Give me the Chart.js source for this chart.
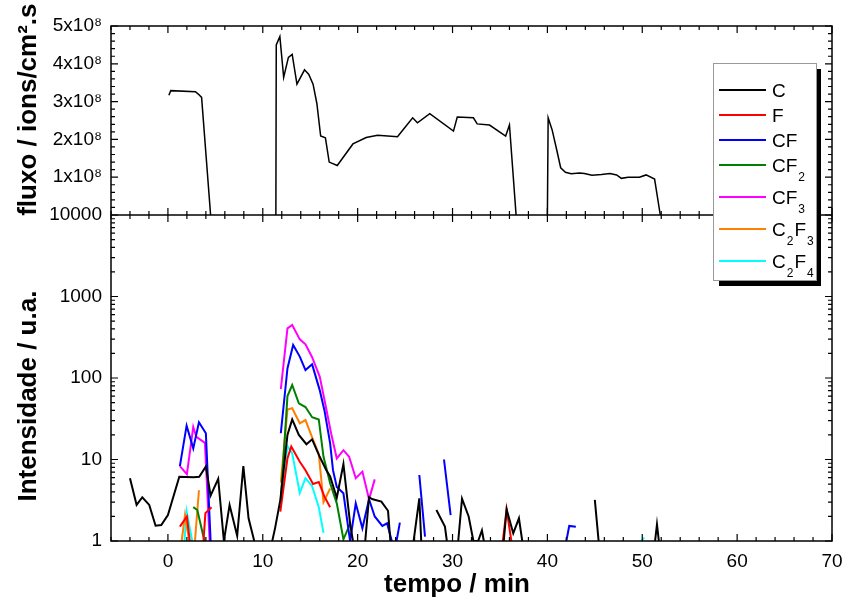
<!DOCTYPE html>
<html><head><meta charset="utf-8">
<script src="https://cdn.jsdelivr.net/npm/chart.js@4.4.1/dist/chart.umd.min.js"></script>
<style>html,body{margin:0;padding:0;background:#fff;}canvas{display:block;}</style>
</head><body>
<canvas id="c" width="843" height="600"></canvas>
<script>
// ---------- DATA ----------
const xTickValues = [0, 10, 20, 30, 40, 50, 60, 70];
const fluxTickValues = [1e8, 2e8, 3e8, 4e8, 5e8];
const intensityTickValues = [1, 10, 100, 1000, 10000];

// top panel: ion flux (ions/cm2.s), null = gap
const fluxTime  = [0.1, 0.3, 2.9, 3.2, 3.55, 4.5, 8, 11.38, 11.42, 11.8, 12.2, 12.7, 13.1, 13.6, 14.4, 14.85, 15.3, 15.7, 16.1, 16.6, 17.0, 17.85, 19.5, 20.9, 22.1, 24.2, 25.0, 25.8, 26.3, 27.6, 30.1, 30.5, 32.2, 32.6, 33.9, 35.6, 36.0, 36.7, 38, 40.0, 40.08, 40.5, 40.95, 41.4, 41.9, 42.5, 43.4, 43.9, 44.7, 45.7, 46.6, 47.3, 47.8, 48.5, 49.7, 50.4, 51.3, 51.9];
const fluxValue = [3.17e8, 3.29e8, 3.26e8, 3.2e8, 3.11e8, 0, null, 0, 4.5e8, 4.72e8, 3.64e8, 4.17e8, 4.25e8, 3.46e8, 3.84e8, 3.72e8, 3.46e8, 2.95e8, 2.09e8, 2.04e8, 1.40e8, 1.31e8, 1.88e8, 2.05e8, 2.11e8, 2.07e8, 2.32e8, 2.57e8, 2.44e8, 2.68e8, 2.22e8, 2.59e8, 2.57e8, 2.41e8, 2.38e8, 2.09e8, 2.38e8, 0, null, 0, 2.57e8, 2.25e8, 1.76e8, 1.25e8, 1.13e8, 1.09e8, 1.11e8, 1.10e8, 1.05e8, 1.07e8, 1.10e8, 1.06e8, 0.97e8, 1.0e8, 1.0e8, 1.06e8, 0.95e8, 0];

// bottom panel: intensities (a.u.), null = gap
const cTime  = [-4.0, -3.3, -2.7, -1.97, -1.3, -0.7, 0.0, 1.2, 2.7, 3.3, 4.0, 4.5, 5.3, 5.9, 6.5, 7.3, 7.95, 8.5, 9.1, 10, 11.0, 11.3, 11.85, 12.6, 13.1, 13.8, 14.6, 15.2, 16.0, 16.7, 17.1, 17.8, 18.5, 19.2, 19.5, 20, 20.8, 21.2, 21.6, 22.5, 23.2, 23.45, 25, 25.9, 26.5, 26.7, 27.5, 28.3, 29.2, 29.4, 30, 30.6, 31.0, 31.7, 32.2, 32.7, 33.1, 33.3, 34, 35.4, 35.7, 36.4, 37.0, 37.35, 40, 45.0, 45.4, 48, 51.35, 51.55, 51.75];
const cValue = [5.9, 2.77, 3.44, 2.77, 1.54, 1.57, 2.08, 6.15, 6.05, 6.15, 8.2, 3.6, 5.8, 1, 2.77, 1.16, 8.3, 1.9, 1, null, 1, 1.45, 3.2, 20, 31, 20, 15.4, 17.7, 10.8, 7.4, 6.2, 3.4, 8.8, 1.65, 1, null, 1, 3.44, 3.25, 3.04, 2.35, 1, null, 1, 3.34, 1, null, 2.4, 1.5, 1, null, 1, 3.3, 2.0, 1, 1, 1.35, 1, null, 1, 2.45, 1.24, 1.9, 1, null, 3.2, 1, null, 1, 1.6, 1];

const fTime  = [1.26, 2.0, 2.3, 3, 3.75, 3.95, 4.6, 8, 11.85, 12.6, 13.0, 13.9, 14.5, 15.3, 15.9, 16.5, 17.1, 25, 35.3, 35.7, 36.2];
const fValue = [1.5, 2.0, 1, null, 1, 2.2, 2.6, null, 2.3, 10.3, 14.4, 9.4, 7.4, 5.0, 5.3, 3.5, 2.6, null, 1, 2.45, 1];

const cfTime  = [1.26, 1.97, 2.67, 3.27, 4.0, 4.5, 8, 11.9, 12.6, 13.2, 13.9, 14.5, 15.2, 16.0, 16.5, 17.1, 17.4, 17.8, 18.5, 19.2, 19.8, 20.5, 21.2, 21.8, 22.6, 23.1, 23.6, 23.8, 24.1, 24.45, 25, 26.5, 27.1, 28, 29.1, 29.8, 35, 42.0, 42.3, 43.0];
const cfValue = [8.3, 26, 13.7, 28.6, 21, 1, null, 21, 131, 254, 183, 125, 147, 71, 40, 15.8, 7.4, 4.6, 3.85, 1, 2.9, 1.43, 3.25, 2.0, 1.53, 1.65, 1, null, 1, 1.68, null, 6.45, 1.13, null, 10, 2.08, null, 1, 1.53, 1.5];

const cf2Time  = [2.67, 3.1, 3.85, 8, 11.9, 12.6, 13.1, 13.8, 14.5, 15.2, 15.9, 16.4, 17.1, 17.8, 18.5, 19.2];
const cf2Value = [2.6, 2.4, 1, null, 3.2, 60, 82, 49, 44, 33, 31, 10.8, 5.1, 2.9, 1.05, 1.62];

const cf3Time  = [1.26, 2.0, 2.67, 3.0, 3.9, 4.4, 8, 11.9, 12.6, 13.1, 13.9, 14.5, 15.2, 16.0, 16.5, 17.2, 17.8, 18.5, 19.1, 19.8, 20.5, 21.2, 21.8];
const cf3Value = [8.3, 6.6, 25, 19, 16, 1, null, 73, 407, 447, 298, 259, 180, 104, 54, 21, 10.3, 13, 10.8, 5.9, 7.1, 3.25, 5.7];

const c2f3Time  = [1.45, 1.8, 2.25, 2.5, 2.85, 3.27, 8, 11.9, 12.6, 13.1, 13.9, 14.5, 15.2, 15.9, 16.4, 17.1];
const c2f3Value = [1, 2.08, 1, null, 1, 4.2, null, 5.2, 41, 42.5, 27.8, 30.5, 18.7, 11.7, 3.0, 4.4];

const c2f4Time  = [1.75, 1.97, 2.56, 8, 11.9, 12.6, 13.1, 13.9, 14.5, 15.2, 15.9, 16.4, 30, 49.9, 50.2];
const c2f4Value = [1, 2.3, 1, null, 3.3, 14.6, 11.9, 3.9, 5.9, 4.7, 2.6, 1.26, null, 1, 1.1];

const seriesNames  = ['C', 'F', 'CF', 'CF_2', 'CF_3', 'C_2F_3', 'C_2F_4'];
const seriesColors = ['#000000', '#ff0000', '#0000ff', '#008000', '#ff00ff', '#ff8000', '#00ffff'];
const seriesTimes  = [cTime, fTime, cfTime, cf2Time, cf3Time, c2f3Time, c2f4Time];
const seriesValues = [cValue, fValue, cfValue, cf2Value, cf3Value, c2f3Value, c2f4Value];

// ---------- BUILD ----------
const FONT = "'Liberation Sans', Arial, Helvetica, sans-serif";
const zip = (t, v) => t.map((x, i) => ({x: x, y: v[i]}));

const datasets = [{
  label: 'fluxo', data: zip(fluxTime, fluxValue), yAxisID: 'yTop', xAxisID: 'x',
  borderColor: '#000', borderWidth: 1.5, pointRadius: 0, tension: 0, spanGaps: false, fill: false
}];
seriesNames.forEach((n, i) => datasets.push({
  label: n, data: zip(seriesTimes[i], seriesValues[i]), yAxisID: 'yBot', xAxisID: 'x',
  borderColor: seriesColors[i], borderWidth: 2, pointRadius: 0, tension: 0, spanGaps: false, fill: false
}));

const supDigits = {'0':'⁰','1':'¹','2':'²','3':'³','4':'⁴','5':'⁵','6':'⁶','7':'⁷','8':'⁸','9':'⁹'};

const framePlugin = {
  id: 'frame',
  afterDraw(chart) {
    const ctx = chart.ctx;
    const xs = chart.scales.x, yt = chart.scales.yTop, yb = chart.scales.yBot;
    const L = chart.chartArea.left, R = chart.chartArea.right;
    const T = yt.top, M = yt.bottom, B = yb.bottom;
    ctx.save();
    ctx.strokeStyle = '#000';
    ctx.lineWidth = 1.5;
    ctx.lineCap = 'butt';
    ctx.strokeRect(L, T, R - L, B - T);
    ctx.beginPath(); ctx.moveTo(L, M); ctx.lineTo(R, M); ctx.stroke();
    ctx.lineWidth = 1.2;
    ctx.beginPath();
    // x ticks
    for (let v = -6; v <= 70; v += 2) {
      const px = xs.getPixelForValue(v);
      const len = (v % 10 === 0) ? 7 : 4;
      ctx.moveTo(px, B); ctx.lineTo(px, B - len);
      ctx.moveTo(px, M - len); ctx.lineTo(px, M + len);
      ctx.moveTo(px, T); ctx.lineTo(px, T + len);
    }
    // top panel linear ticks
    for (let k = 0; k <= 25; k++) {
      const v = k * 2e7;
      const py = yt.getPixelForValue(v);
      const len = (k % 5 === 0) ? 7 : 4;
      ctx.moveTo(L, py); ctx.lineTo(L + len, py);
      ctx.moveTo(R, py); ctx.lineTo(R - len, py);
    }
    // bottom panel log ticks
    for (let d = 0; d <= 4; d++) {
      for (let k = 1; k <= 9; k++) {
        if (d === 4 && k > 1) break;
        const v = k * Math.pow(10, d);
        const py = yb.getPixelForValue(v);
        const len = (k === 1) ? 7 : 4;
        ctx.moveTo(L, py); ctx.lineTo(L + len, py);
        ctx.moveTo(R, py); ctx.lineTo(R - len, py);
      }
    }
    ctx.stroke();

    // legend
    const bx = R - 119, by = T + 37, bw = 103, bh = 217;
    ctx.fillStyle = '#000';
    ctx.fillRect(bx + 6, by + 6, bw - 1, bh);
    ctx.fillStyle = '#fff';
    ctx.fillRect(bx, by, bw, bh);
    ctx.strokeStyle = '#999';
    ctx.lineWidth = 1;
    ctx.strokeRect(bx + 0.5, by + 0.5, bw, bh);
    let y = by + 27;
    seriesNames.forEach((name, i) => {
      ctx.strokeStyle = seriesColors[i];
      ctx.lineWidth = 2;
      ctx.beginPath(); ctx.moveTo(bx + 6, y); ctx.lineTo(bx + 53, y); ctx.stroke();
      let tx = bx + 59;
      ctx.fillStyle = '#000';
      ctx.textBaseline = 'alphabetic';
      ctx.textAlign = 'left';
      const parts = name.split(/(_\d)/).filter(s => s.length);
      let hasSub = false;
      parts.forEach(p => {
        if (p[0] === '_') {
          hasSub = true;
          ctx.font = '12px ' + FONT;
          ctx.fillText(p.slice(1), tx + 1, y + 16);
          tx += ctx.measureText(p.slice(1)).width + 2;
        } else {
          ctx.font = '19px ' + FONT;
          ctx.fillText(p, tx, y + 7);
          tx += ctx.measureText(p).width;
        }
      });
      y += hasSub ? 32 : 25;
    });
    ctx.restore();
  }
};

new Chart(document.getElementById('c'), {
  type: 'line',
  data: { datasets },
  plugins: [framePlugin],
  options: {
    responsive: false, animation: false, devicePixelRatio: 1,
    layout: { padding: { left: 0, right: 11, top: 26, bottom: 0 } },
    plugins: { legend: { display: false }, tooltip: { enabled: false } },
    scales: {
      x: {
        type: 'linear', position: 'bottom', min: -6, max: 70,
        grid: { display: false, drawTicks: false }, border: { display: false },
        afterBuildTicks: s => { s.ticks = xTickValues.map(v => ({value: v})); },
        ticks: { autoSkip: false, maxRotation: 0, padding: 9, color: '#000', font: { family: FONT, size: 19 } },
        title: { display: true, text: 'tempo / min    ', color: '#000', font: { family: FONT, size: 26, weight: 'bold' }, padding: { top: 0, bottom: 0 } },
        afterFit: s => { s.height = 59; s.paddingLeft = 0; s.paddingRight = 0; }
      },
      yBot: {
        type: 'logarithmic', position: 'left', stack: 'v', stackWeight: 326, min: 1, max: 10000,
        grid: { display: false, drawTicks: false }, border: { display: false },
        afterBuildTicks: s => { s.ticks = intensityTickValues.map(v => ({value: v})); },
        ticks: { autoSkip: false, padding: 9, color: '#000', font: { family: FONT, size: 19 }, callback: v => String(v) },
        title: { display: true, text: 'Intensidade / u.a.     ', color: '#000', font: { family: FONT, size: 26, weight: 'bold' }, padding: { top: 13, bottom: 0 } },
        afterFit: s => { s.width = 111; }
      },
      yTop: {
        type: 'linear', position: 'left', stack: 'v', stackWeight: 189, min: 0, max: 5e8,
        grid: { display: false, drawTicks: false }, border: { display: false },
        afterBuildTicks: s => { s.ticks = fluxTickValues.map(v => ({value: v})); },
        ticks: { autoSkip: false, padding: 9, color: '#000', font: { family: FONT, size: 19 },
          callback: v => Math.round(v / 1e8) + 'x10' + supDigits['8'] },
        title: { display: true, text: '   fluxo / ions/cm².s', color: '#000', font: { family: FONT, size: 26, weight: 'bold' }, padding: { top: 13, bottom: 0 } },
        afterFit: s => { s.width = 111; }
      }
    }
  }
});
</script></body></html>
